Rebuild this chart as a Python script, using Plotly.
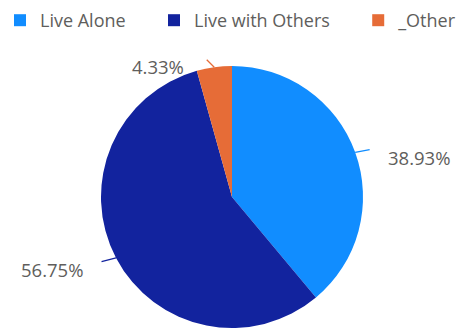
import math
import plotly.graph_objects as go

categories = ["Live Alone", "Live with Others", "_Other"]
values = [38.93, 56.75, 4.33]
label_texts = ["38.93%", "56.75%", "4.33%"]

colors = ["#118DFF", "#12239E", "#E66C37"]
W, H = 461, 330
CX, CY, R = 232, 197, 131
# label placement style: (dx, dy) pixel offset of label from slice edge point, xanchor
label_offsets = [(31, 5, "left"), (-31, 12, "right"), (-28, -1, "right")]
line_offsets = [(16, -3), (-16, 4), (-9, -9)]
legend_pad = [5, 5, 0]  # trailing spacing in legend entries

fig = go.Figure(go.Pie(
    labels=[c + "\u00a0" * p for c, p in zip(categories, legend_pad)],
    values=values, sort=False, direction="clockwise",
    rotation=0, textinfo="none", hoverinfo="label+percent",
    marker=dict(colors=colors, line=dict(width=0)),
    domain=dict(x=[(CX - R) / W, (CX + R) / W], y=[1 - (CY + R) / H, 1 - (CY - R) / H]),
))

total = sum(values)
cum = 0
annotations = []
for v, txt, (dx, dy, xa), (lx, ly), c in zip(values, label_texts, label_offsets, line_offsets, colors):
    mid = (cum + v / 2) / total * 2 * math.pi
    cum += v
    ex = CX + R * math.sin(mid)
    ey = CY - R * math.cos(mid)
    annotations.append(dict(
        x=ex / W, y=1 - ey / H, xref="paper", yref="paper", text="",
        showarrow=True, arrowhead=0, arrowwidth=1.3, arrowcolor=c,
        ax=lx, ay=ly, standoff=0,
    ))
    annotations.append(dict(
        x=(ex + dx) / W, y=1 - (ey + dy) / H, xref="paper", yref="paper",
        text=txt, showarrow=False, xanchor=xa, yanchor="middle",
        font=dict(size=18.5, color="#605E5C"),
    ))

fig.update_layout(
    width=W, height=H, margin=dict(l=0, r=0, t=0, b=0, autoexpand=False),
    paper_bgcolor="white", plot_bgcolor="white",
    font=dict(family="Open Sans, Segoe UI, sans-serif", color="#605E5C"),
    showlegend=True,
    legend=dict(orientation="h", x=0, y=1 - 2 / H, xanchor="left", yanchor="top",
                font=dict(size=18, color="#605E5C"), itemwidth=30),
    annotations=annotations,
)

fig.write_html("out.html", config={"displayModeBar": False},
               post_script="document.body.style.margin='0';")
